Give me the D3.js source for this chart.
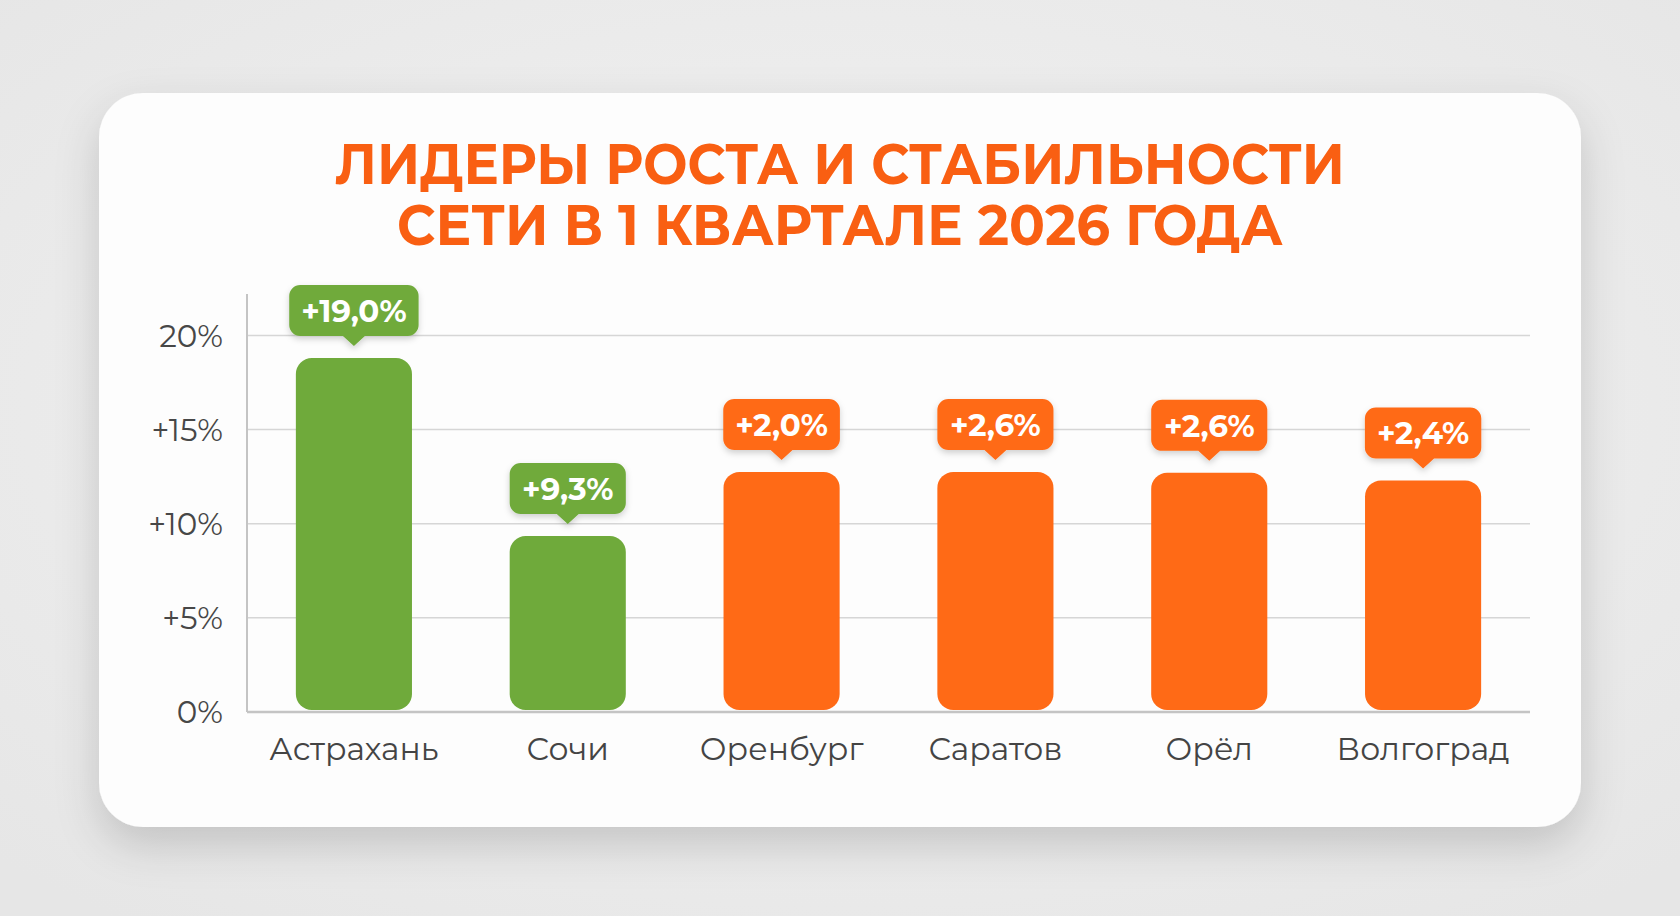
<!DOCTYPE html>
<html>
<head>
<meta charset="utf-8">
<script src="https://cdn.jsdelivr.net/npm/d3@7"></script>
<style>
  html, body { margin: 0; padding: 0; background: #ececec; }
  #chart { width: 1680px; height: 916px; }
</style>
</head>
<body>
<div id="chart"></div>
<script>
// Data
const cities = ["Астрахань", "Сочи", "Оренбург", "Саратов", "Орёл", "Волгоград"];
const barValues = [18.8, 9.35, 12.75, 12.75, 12.7, 12.3];
const badgeLabels = ["+19,0%", "+9,3%", "+2,0%", "+2,6%", "+2,6%", "+2,4%"];
const groups = ["lead", "lead", "stable", "stable", "stable", "stable"];
const yTicks = [0, 5, 10, 15, 20];
const yTickLabels = ["0%", "+5%", "+10%", "+15%", "20%"];
const titleLines = ["ЛИДЕРЫ РОСТА И СТАБИЛЬНОСТИ", "СЕТИ В 1 КВАРТАЛЕ 2026 ГОДА"];

const colors = { lead: "#6faa3b", stable: "#ff6a16" };
const fontFamily = "Montserrat, 'Open Sans', 'Noto Sans', sans-serif";

let dimentions = {
    width: 1680,
    height: 916,
    card: { x: 99, y: 93, w: 1482, h: 734, r: 44 },
    plot: { left: 247, right: 1530, top: 294, bottom: 712 }
};

const svg = d3.select('#chart')
    .append('svg')
    .attr('width', dimentions.width)
    .attr('height', dimentions.height);

const defs = svg.append('defs');

// page background
const bg = defs.append('radialGradient').attr('id', 'bg')
    .attr('cx', '50%').attr('cy', '45%').attr('r', '70%');
bg.append('stop').attr('offset', '0%').attr('stop-color', '#f3f3f3');
bg.append('stop').attr('offset', '100%').attr('stop-color', '#e6e6e6');

const cardShadow = defs.append('filter').attr('id', 'cardShadow')
    .attr('x', '-10%').attr('y', '-10%').attr('width', '120%').attr('height', '130%');
cardShadow.append('feDropShadow')
    .attr('dx', 0).attr('dy', 18).attr('stdDeviation', 22)
    .attr('flood-color', '#000').attr('flood-opacity', 0.16);

const badgeShadow = defs.append('filter').attr('id', 'badgeShadow')
    .attr('x', '-20%').attr('y', '-20%').attr('width', '140%').attr('height', '160%');
badgeShadow.append('feDropShadow')
    .attr('dx', 0).attr('dy', 3).attr('stdDeviation', 3)
    .attr('flood-color', '#000').attr('flood-opacity', 0.18);

svg.append('rect')
    .attr('width', dimentions.width)
    .attr('height', dimentions.height)
    .attr('fill', 'url(#bg)');

// white card
const c = dimentions.card;
svg.append('rect')
    .attr('x', c.x).attr('y', c.y)
    .attr('width', c.w).attr('height', c.h)
    .attr('rx', c.r)
    .attr('fill', '#fdfdfd')
    .attr('filter', 'url(#cardShadow)');

// Title (one text, two lines)
const titleWidths = [1010, 886];
const titleBaselines = [184, 245];
svg.append('text')
    .attr('class', 'title')
    .attr('text-anchor', 'middle')
    .attr('font-family', fontFamily)
    .attr('font-weight', 700)
    .attr('font-size', 56)
    .attr('fill', '#f95f12')
    .selectAll('tspan')
    .data(titleLines)
    .enter()
    .append('tspan')
    .attr('x', 840)
    .attr('y', (d, i) => titleBaselines[i])
    .attr('textLength', (d, i) => titleWidths[i])
    .attr('lengthAdjust', 'spacingAndGlyphs')
    .text(d => d);

// Scales
const p = dimentions.plot;
const x = d3.scaleBand()
    .domain(cities)
    .range([p.left, p.right])
    .paddingInner(0.457)
    .paddingOuter(0.2285);

const y = d3.scaleLinear()
    .domain([0, 22.2])
    .range([p.bottom, p.top]);

// Grid lines
svg.append('g')
    .selectAll('line')
    .data(yTicks.filter(t => t > 0))
    .enter()
    .append('line')
    .attr('x1', p.left).attr('x2', p.right)
    .attr('y1', d => y(d)).attr('y2', d => y(d))
    .attr('stroke', '#d6d6d6')
    .attr('stroke-width', 1.5);

// Y axis labels
const yAxis = d3.axisLeft(y)
    .tickValues(yTicks)
    .tickSize(0)
    .tickPadding(24)
    .tickFormat((d, i) => yTickLabels[i]);

const yAxisG = svg.append('g')
    .attr('transform', `translate(${p.left}, 0)`)
    .call(yAxis);
yAxisG.select('.domain').remove();
yAxisG.selectAll('text')
    .attr('font-family', fontFamily)
    .attr('font-size', 31)
    .attr('fill', '#474747')
    .attr('dy', '0.35em');

// Bars
svg.append('g')
    .selectAll('rect')
    .data(cities)
    .enter()
    .append('rect')
    .attr('x', d => x(d))
    .attr('y', (d, i) => y(barValues[i]))
    .attr('width', x.bandwidth())
    .attr('height', (d, i) => y(0) - y(barValues[i]) - 2)
    .attr('rx', 16)
    .attr('fill', (d, i) => colors[groups[i]]);

// Axis lines
svg.append('line')
    .attr('x1', p.left).attr('x2', p.left)
    .attr('y1', p.top).attr('y2', p.bottom)
    .attr('stroke', '#c4c4c4').attr('stroke-width', 2);
svg.append('line')
    .attr('x1', p.left).attr('x2', p.right)
    .attr('y1', p.bottom).attr('y2', p.bottom)
    .attr('stroke', '#c4c4c4').attr('stroke-width', 2.5);

// X labels
const xAxis = d3.axisBottom(x).tickSize(0).tickPadding(48);
const xAxisG = svg.append('g')
    .attr('transform', `translate(0, ${p.bottom})`)
    .call(xAxis);
xAxisG.select('.domain').remove();
xAxisG.selectAll('text')
    .attr('font-family', fontFamily)
    .attr('font-size', 31.5)
    .attr('fill', '#444')
    .attr('dy', 0);

// Value badges
const badgeH = 51, gap = 22, tipH = 10, tipW = 11;
const badges = svg.append('g')
    .selectAll('g')
    .data(cities)
    .enter()
    .append('g')
    .attr('transform', (d, i) => `translate(${x(d) + x.bandwidth() / 2}, ${y(barValues[i]) - gap})`);

badges.each(function(d, i) {
    const g = d3.select(this);
    const shape = g.append('path').attr('filter', 'url(#badgeShadow)');
    const label = g.append('text')
        .attr('text-anchor', 'middle')
        .attr('y', -badgeH / 2)
        .attr('dy', '0.36em')
        .attr('font-family', fontFamily)
        .attr('font-weight', 700)
        .attr('font-size', 31)
        .attr('fill', '#fff')
        .text(badgeLabels[i]);
    const w = Math.max(label.node().getComputedTextLength() + 24, x.bandwidth());
    const r = 11, hw = w / 2;
    const path = d3.path();
    path.moveTo(-hw + r, -badgeH);
    path.lineTo(hw - r, -badgeH);
    path.arcTo(hw, -badgeH, hw, -badgeH + r, r);
    path.lineTo(hw, -r);
    path.arcTo(hw, 0, hw - r, 0, r);
    path.lineTo(tipW, 0);
    path.lineTo(0, tipH);
    path.lineTo(-tipW, 0);
    path.lineTo(-hw + r, 0);
    path.arcTo(-hw, 0, -hw, -r, r);
    path.lineTo(-hw, -badgeH + r);
    path.arcTo(-hw, -badgeH, -hw + r, -badgeH, r);
    path.closePath();
    shape.attr('d', path.toString()).attr('fill', colors[groups[i]]);
});
</script>
</body>
</html>
